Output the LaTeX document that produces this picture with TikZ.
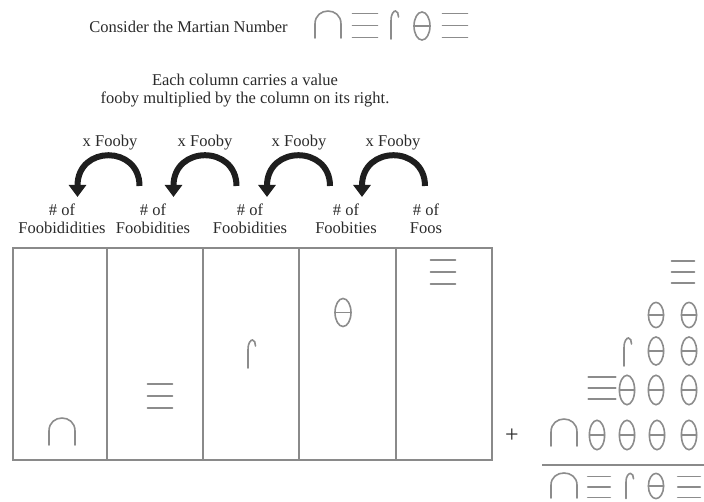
\documentclass[tikz,border=0pt]{standalone}
\usepackage{fontspec}
\setmainfont{Liberation Serif}
\usetikzlibrary{arrows.meta}
\definecolor{txt}{HTML}{2A2A2A}
\definecolor{glyph}{HTML}{8C8C8C}
\definecolor{rule}{HTML}{8A8A8A}
\definecolor{arr}{HTML}{1E1E1E}
\tikzset{
  lbl/.style={font={\fontsize{16.5}{18}\selectfont}, text=txt, inner sep=0pt, align=center},
  g/.style={draw=glyph, line width=1.6pt, line cap=round},
  bigarrow/.style={draw=arr, line width=6pt, -{Triangle[length=12pt,width=17pt]}},
  tablerule/.style={draw=rule, line width=1.5pt},
  arch/.pic={\draw[g] (-13,13) -- (-13,-1) .. controls (-13,-18.3) and (13,-18.3) .. (13,-1) -- (13,13);},
  bars/.pic={\draw[g] (-12.5,-12) -- (12.5,-12) (-12.5,0) -- (12.5,0) (-12.5,12) -- (12.5,12);},
  hook/.pic={\draw[g] (-3,14) -- (-3,-4) .. controls (-3,-12) and (0,-14) .. (1.5,-14) .. controls (3.5,-14) and (4.5,-11) .. (4.5,-8);},
  theta/.pic={\draw[g] (0,0) ellipse [x radius=8, y radius=14]; \draw[g] (-8,0) -- (8,0);}
}
\begin{document}
\begin{tikzpicture}[x=1pt,y=-1pt]
\useasboundingbox (0,0) rectangle (704,502);

% title
\node[lbl] (title) at (188.5,27) {Consider the Martian Number};
\pic at (328,25) {arch};
\pic at (365,25.5) {bars};
\pic at (394,25) {hook};
\pic at (422,26) {theta};
\pic at (455,25.5) {bars};

\node[lbl] (expl) at (245,91) {Each column carries a value\\fooby multiplied by the column on its right.};

% x Fooby labels
\node[lbl] (f1) at (110,143) {x Fooby};
\node[lbl] (f2) at (205,143) {x Fooby};
\node[lbl] (f3) at (299,143) {x Fooby};
\node[lbl] (f4) at (393,143) {x Fooby};

% arrows
\coordinate (a1s) at (139.5,186); \coordinate (a1e) at (77.5,197);
\coordinate (a2s) at (236.5,186); \coordinate (a2e) at (173.5,197);
\coordinate (a3s) at (330,186);   \coordinate (a3e) at (267,197);
\coordinate (a4s) at (425,186);   \coordinate (a4e) at (362,197);
\foreach \i in {1,2,3,4}{
  \draw[bigarrow] (a\i s) .. controls +(0,-41) and +(0,-52) .. (a\i e);
}

% column labels
\node[lbl] (c1) at (62,219) {\# of\\Foobididities};
\node[lbl] (c2) at (153,219) {\# of\\Foobidities};
\node[lbl] (c3) at (250,219) {\# of\\Foobidities};
\node[lbl] (c4) at (346,219) {\# of\\Foobities};
\node[lbl] (c5) at (426,219) {\# of\\Foos};

% table
\draw[tablerule] (13,248) rectangle (492,460);
\foreach \xx in {107,203,299,396}{
  \draw[tablerule] (\xx,248) -- (\xx,460);
}
\pic at (62,432) {arch};
\pic at (160,396) {bars};
\pic at (251,354) {hook};
\pic at (343,312.5) {theta};
\pic at (443,272) {bars};

% stacked sum
\pic[xscale=0.92,yscale=0.92] at (683,272) {bars};

\pic[xscale=0.95,yscale=0.9] at (656,315) {theta};
\pic[xscale=0.95,yscale=0.9] at (689,315) {theta};

\pic at (627,352) {hook};
\pic[xscale=0.95] at (656,351) {theta};
\pic[xscale=0.95] at (689,351) {theta};

\pic[xscale=1.1,yscale=0.92] at (602,388) {bars};
\pic[xscale=0.95,yscale=1.05] at (627,390) {theta};
\pic[xscale=0.95,yscale=1.05] at (656,390) {theta};
\pic[xscale=0.95,yscale=1.05] at (689,390) {theta};

\node[lbl, font={\fontsize{24}{24}\selectfont}] (plus) at (512,436) {+};
\pic at (564,433) {arch};
\pic[xscale=0.95,yscale=1.05] at (597,435) {theta};
\pic[xscale=0.95,yscale=1.05] at (627,435) {theta};
\pic[xscale=0.95,yscale=1.05] at (657,435) {theta};
\pic[xscale=0.95,yscale=1.05] at (689,435) {theta};

\draw[draw=rule, line width=2pt] (542,465) -- (704,465);

\pic[yscale=0.93] at (564,486) {arch};
\pic[xscale=0.9,yscale=0.88] at (599,487) {bars};
\pic[yscale=0.9] at (629,486) {hook};
\pic[xscale=0.95,yscale=0.9] at (656,486) {theta};
\pic[xscale=0.9,yscale=0.88] at (689,487) {bars};
\end{tikzpicture}
\end{document}
